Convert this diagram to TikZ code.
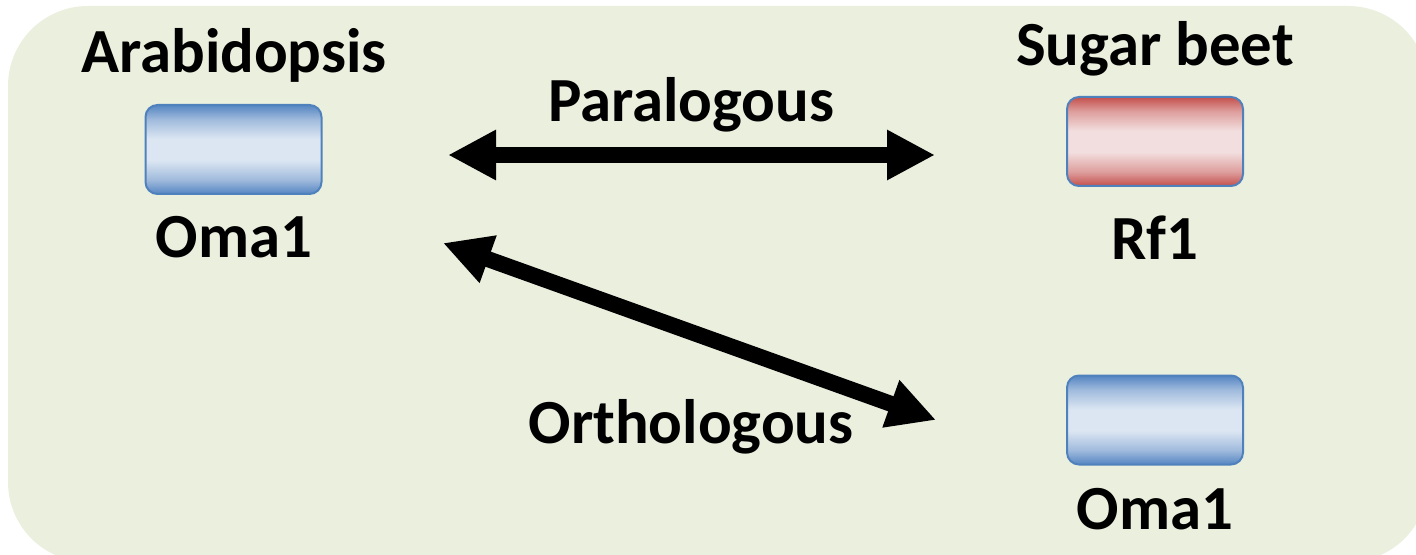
\documentclass[tikz,border=0pt]{standalone}
\usepackage{fontspec}
\setmainfont{Carlito}
\usetikzlibrary{arrows.meta}
\definecolor{panel}{HTML}{EBEFDE}
\definecolor{boxedge}{HTML}{4F81BD}
\definecolor{bluetop}{HTML}{5585C2}
\definecolor{bluemid}{HTML}{DCE6F2}
\definecolor{redtop}{HTML}{C4504D}
\definecolor{redmid}{HTML}{F2DEDE}
\colorlet{bluehalf}{bluetop!45!bluemid}
\colorlet{redhalf}{redtop!45!redmid}
\pgfdeclareverticalshading{bluebar}{100bp}{color(0bp)=(bluetop); color(25bp)=(bluetop); color(33bp)=(bluehalf); color(44bp)=(bluemid); color(56bp)=(bluemid); color(67bp)=(bluehalf); color(75bp)=(bluetop); color(100bp)=(bluetop)}
\pgfdeclareverticalshading{redbar}{100bp}{color(0bp)=(redtop); color(25bp)=(redtop); color(33bp)=(redhalf); color(44bp)=(redmid); color(56bp)=(redmid); color(67bp)=(redhalf); color(75bp)=(redtop); color(100bp)=(redtop)}
\tikzset{gene/.style={draw=boxedge,line width=1pt,rounded corners=6pt,minimum width=88pt,minimum height=44.5pt,inner sep=0pt},
bluegene/.style={gene,shade,shading=bluebar},
redgene/.style={gene,shade,shading=redbar},
lbl/.style={font=\bfseries\fontsize{31.4}{36}\selectfont,inner sep=0pt,anchor=base},
rel/.style={line width=8pt,{Triangle[length=24pt,width=23.5pt]}-{Triangle[length=24pt,width=23.5pt]}}}
\begin{document}
\begin{tikzpicture}[x=.5pt,y=-.5pt]
\useasboundingbox (0,0) rectangle (1416,555);
\fill[panel,rounded corners=40pt] (8,6) rectangle (1428,562);
\node[bluegene] (atbox) at (233.5,149.5) {};\node[redgene] (rfbox) at (1155,141.5) {};\node[bluegene] (bvbox) at (1155,420) {};
\node[lbl] (arab) at (234,73) {Arabidopsis};\node[lbl] (atoma) at (234,258) {Oma1};
\node[lbl] (beet) at (1155,66) {Sugar beet};\node[lbl] (rf) at (1155,260) {Rf1};\node[lbl] (bvoma) at (1155,529) {Oma1};
\node[lbl] (para) at (691,122) {Paralogous};\node[lbl] (ortho) at (691,443) {Orthologous};
\coordinate (pl) at (448,155);\coordinate (pr) at (935,155);\coordinate (ol) at (443,243);\coordinate (or) at (936,420);
\draw[rel] (pl)--(pr);\draw[rel] (ol)--(or);
\end{tikzpicture}
\end{document}
